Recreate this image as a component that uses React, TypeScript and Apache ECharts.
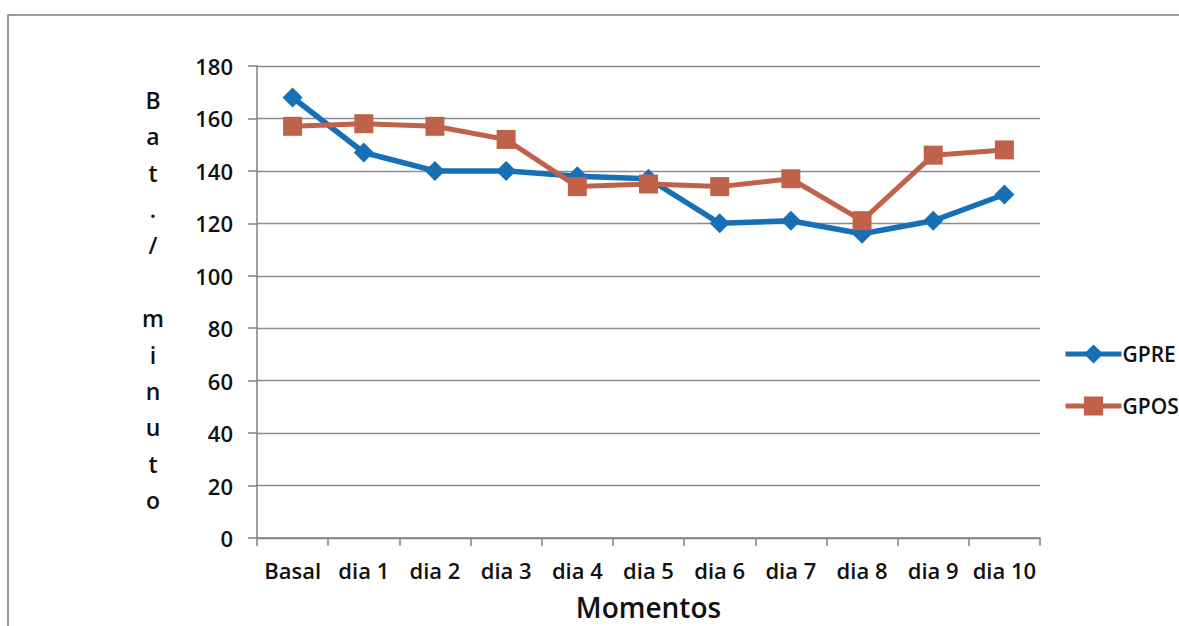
import React, { useEffect, useRef } from "react";
import * as echarts from "echarts";

const categories = ["Basal", "dia 1", "dia 2", "dia 3", "dia 4", "dia 5", "dia 6", "dia 7", "dia 8", "dia 9", "dia 10"];
const gpre = [168, 147, 140, 140, 138, 137, 120, 121, 116, 121, 131];
const gpos = [157, 158, 157, 152, 134, 135, 134, 137, 121, 146, 148];
const seriesNames = ["GPRE", "GPOS"];
const yTitle = "Bat. / minuto";
const xTitle = "Momentos";

const FONT = "'Open Sans', 'Liberation Sans', sans-serif";
const BLUE = "#1770b5";
const ORANGE = "#c0614a";
const WEIGHT = 600;

export default function App() {
  const ref = useRef<HTMLDivElement>(null);
  useEffect(() => {
    if (!ref.current) return;
    const chart = echarts.init(ref.current, undefined, { renderer: "svg" });
    const stacked = yTitle
      .replace(" / ", "/ ")
      .split("")
      .map((c) => (c === " " ? "" : c))
      .join("\n");
    chart.setOption({
      animation: false,
      backgroundColor: "#ffffff",
      textStyle: { fontFamily: FONT },
      grid: { left: 257, right: 139, top: 66, bottom: 88, containLabel: false, outerBoundsMode: "none" },
      legend: {
        orient: "vertical",
        left: 1058,
        top: 337,
        itemWidth: 56,
        itemHeight: 24,
        itemGap: 28,
        data: [
          { name: seriesNames[0], lineStyle: { width: 5, color: BLUE } },
          { name: seriesNames[1], lineStyle: { width: 5, color: ORANGE } },
        ],
        textStyle: {
          fontFamily: FONT,
          fontSize: 21,
          fontWeight: WEIGHT,
          color: "#111",
          lineHeight: 24,
          padding: [0, 0, 0, -4],
        },
      },
      graphic: [
        {
          type: "rect",
          silent: true,
          z: -10,
          shape: { x: 8, y: 15, width: 1300, height: 800 },
          style: { fill: "none", stroke: "#7a7a7a", lineWidth: 1.5 },
        },
        {
          type: "text",
          silent: true,
          x: 153,
          y: 300,
          style: {
            text: stacked,
            fontFamily: FONT,
            fontSize: 23,
            fontWeight: WEIGHT,
            lineHeight: 36.4,
            fill: "#111",
            align: "center",
            verticalAlign: "middle",
          },
        },
      ],
      xAxis: {
        type: "category",
        data: categories,
        boundaryGap: true,
        name: xTitle,
        nameLocation: "middle",
        nameGap: 55,
        nameTextStyle: { fontFamily: FONT, fontSize: 28, lineHeight: 28, fontWeight: WEIGHT, color: "#111" },
        axisLine: { show: true, lineStyle: { color: "#808080", width: 1.5 } },
        axisTick: { show: true, interval: 0, length: 8, lineStyle: { color: "#808080", width: 1.5 } },
        axisLabel: { interval: 0, margin: 21, fontFamily: FONT, fontSize: 22, fontWeight: WEIGHT, color: "#111" },
        splitLine: { show: false },
      },
      yAxis: {
        type: "value",
        min: 0,
        max: 180,
        interval: 20,
        axisLine: { show: true, lineStyle: { color: "#808080", width: 1.5 } },
        axisTick: { show: true, length: 9, lineStyle: { color: "#808080", width: 1.5 } },
        axisLabel: { margin: 24, fontFamily: FONT, fontSize: 22, fontWeight: WEIGHT, color: "#111" },
        splitLine: { show: true, lineStyle: { color: "#8c8c8c", width: 1.3 } },
      },
      series: [
        {
          name: seriesNames[0],
          type: "line",
          data: gpre,
          symbol: "diamond",
          symbolSize: 20,
          lineStyle: { color: BLUE, width: 5.5 },
          itemStyle: { color: BLUE },
        },
        {
          name: seriesNames[1],
          type: "line",
          data: gpos,
          symbol: "rect",
          symbolSize: 19,
          lineStyle: { color: ORANGE, width: 5 },
          itemStyle: { color: ORANGE },
        },
      ],
    });
    return () => chart.dispose();
  }, []);
  return (
    <div
      ref={ref}
      style={{ position: "fixed", left: 0, top: 0, width: 1179, height: 626, background: "#fff" }}
    />
  );
}
